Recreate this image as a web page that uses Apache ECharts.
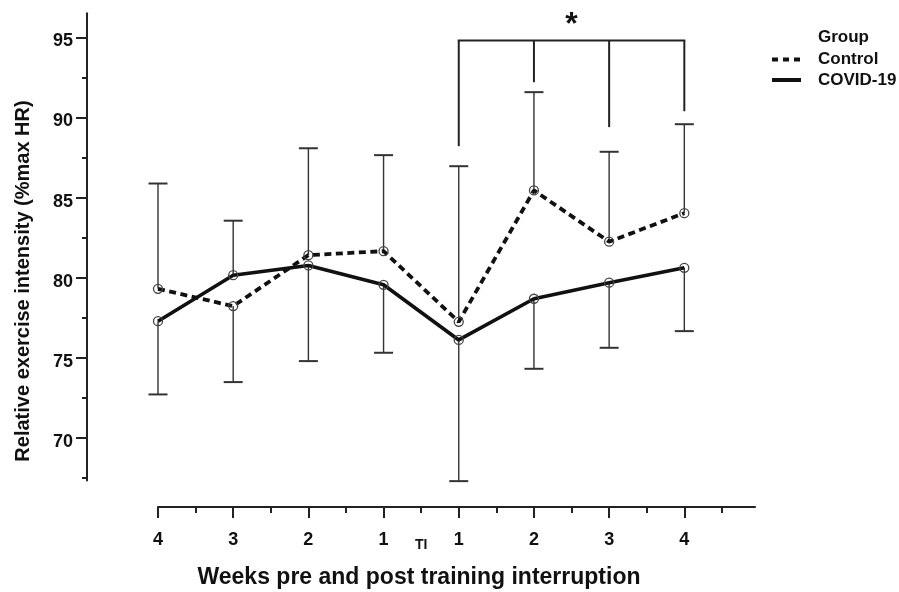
<!DOCTYPE html>
<html><head><meta charset="utf-8">
<script src="https://cdn.jsdelivr.net/npm/echarts@6/dist/echarts.min.js"></script>
<style>html,body{margin:0;padding:0;background:#fff}#c{width:899px;height:592px}</style>
</head><body><div id="c"></div>
<script>
// ---- data ----
const weekLabels = ['4', '3', '2', '1', '1', '2', '3', '4'];
const controlMean = [79.31, 78.23, 81.41, 81.66, 77.25, 85.45, 82.25, 84.03];
const covidMean   = [77.29, 80.16, 80.77, 79.56, 76.12, 78.69, 79.69, 80.62];
const errUpper    = [85.88, 83.56, 88.08, 87.65, 86.96, 91.58, 87.86, 89.58];
const errLower    = [72.72, 73.49, 74.80, 75.32, 67.31, 74.32, 75.63, 76.67];
const bracketTop  = 94.8;
const bracketIdx  = [4, 5, 6, 7];
const bracketEnd  = [88.21, 92.20, 89.40, 90.39];
const yMajorTicks = [70, 75, 80, 85, 90, 95];
const yMinorTicks = [67.5, 72.5, 77.5, 82.5, 87.5, 92.5];
const xMajorTicks = [0, 1, 2, 3, 4, 5, 6, 7];
const xMinorTicks = [0.5, 1.5, 2.5, 3.5, 4.5, 5.5, 6.5, 7.5];
const tiPos = 3.5;
const tiLabel = 'TI';
const groupNames = ['Control', 'COVID-19'];

// ---- chart ----
const FONT = '"Liberation Sans", Arial, sans-serif';
const chart = echarts.init(document.getElementById('c'), null, {renderer: 'canvas'});

const errData = weekLabels.map((_, i) => [i, errUpper[i], errLower[i],
  Math.max(controlMean[i], covidMean[i]), Math.min(controlMean[i], covidMean[i])]);

const markerStyle = {color: 'rgba(255,255,255,0)', borderColor: '#444', borderWidth: 1.3};

const xBase = {
  type: 'value', min: 0, max: 7.94, position: 'bottom', offset: 26.5,
  splitLine: {show: false}
};
const yBase = {
  type: 'value', min: 67.35, max: 96.5, position: 'left', offset: 71,
  splitLine: {show: false}
};

const option = {
  backgroundColor: '#fff',
  animation: false,
  grid: {left: 158, right: 144, top: 13.3, bottom: 111.5},
  xAxis: [
    Object.assign({}, xBase, {
      axisLine: {show: true, onZero: false, lineStyle: {color: '#222', width: 2}},
      axisTick: {show: true, customValues: xMajorTicks, length: 11, lineStyle: {color: '#222', width: 2}},
      axisLabel: {show: true, customValues: xMajorTicks, margin: 24,
        formatter: v => weekLabels[Math.round(v)],
        fontFamily: FONT, fontWeight: 'bold', fontSize: 18, color: '#111'}
    }),
    Object.assign({}, xBase, {
      axisLine: {show: false, onZero: false},
      axisTick: {show: true, customValues: xMinorTicks, length: 6, lineStyle: {color: '#222', width: 2}},
      axisLabel: {show: true, customValues: [tiPos], margin: 31,
        formatter: () => tiLabel,
        fontFamily: FONT, fontWeight: 'bold', fontSize: 14, color: '#111'}
    })
  ],
  yAxis: [
    Object.assign({}, yBase, {
      axisLine: {show: true, onZero: false, lineStyle: {color: '#222', width: 2}},
      axisTick: {show: true, customValues: yMajorTicks, length: 11, lineStyle: {color: '#222', width: 2}},
      axisLabel: {show: true, customValues: yMajorTicks, margin: 14,
        formatter: v => '{n|' + v + '}',
        rich: {n: {fontFamily: FONT, fontWeight: 'bold', fontSize: 18, color: '#111', padding: [8, 0, 0, 0]}},
        fontFamily: FONT, fontWeight: 'bold', fontSize: 18, color: '#111'}
    }),
    Object.assign({}, yBase, {
      axisLine: {show: false, onZero: false},
      axisTick: {show: true, customValues: yMinorTicks, length: 5, lineStyle: {color: '#222', width: 2}},
      axisLabel: {show: false}
    })
  ],
  series: [
    {
      type: 'custom', name: 'err', xAxisIndex: 0, yAxisIndex: 0, clip: false, z: 1,
      data: errData,
      renderItem: function (params, api) {
        const x = api.value(0);
        const pTop = api.coord([x, api.value(1)]);
        const pBot = api.coord([x, api.value(2)]);
        const pHi = api.coord([x, api.value(3)]);
        const pLo = api.coord([x, api.value(4)]);
        const hw = 9.5;
        const st = {stroke: '#333', lineWidth: 1.4};
        const cs = {stroke: '#333', lineWidth: 2};
        return {type: 'group', children: [
          {type: 'line', shape: {x1: pTop[0], y1: pTop[1], x2: pHi[0], y2: pHi[1]}, style: st},
          {type: 'line', shape: {x1: pTop[0] - hw, y1: pTop[1], x2: pTop[0] + hw, y2: pTop[1]}, style: cs},
          {type: 'line', shape: {x1: pLo[0], y1: pLo[1], x2: pBot[0], y2: pBot[1]}, style: st},
          {type: 'line', shape: {x1: pBot[0] - hw, y1: pBot[1], x2: pBot[0] + hw, y2: pBot[1]}, style: cs}
        ]};
      }
    },
    {
      type: 'custom', name: 'bracket', xAxisIndex: 0, yAxisIndex: 0, clip: false, z: 1,
      data: [[0]],
      renderItem: function (params, api) {
        const children = [];
        const first = api.coord([bracketIdx[0], bracketTop]);
        const last = api.coord([bracketIdx[bracketIdx.length - 1], bracketTop]);
        const st = {stroke: '#222', lineWidth: 2};
        children.push({type: 'line', shape: {x1: first[0] - 1, y1: first[1], x2: last[0] + 1, y2: last[1]}, style: st});
        bracketIdx.forEach((ix, k) => {
          const a = api.coord([ix, bracketTop]);
          const b = api.coord([ix, bracketEnd[k]]);
          children.push({type: 'line', shape: {x1: a[0], y1: a[1], x2: b[0], y2: b[1]}, style: st});
        });
        const mid = api.coord([(bracketIdx[0] + bracketIdx[bracketIdx.length - 1]) / 2, bracketTop]);
        children.push({type: 'text', x: mid[0], y: mid[1] + 1, style: {
          text: '*', fontFamily: FONT, fontWeight: 'bold', fontSize: 32, fill: '#111',
          align: 'center', verticalAlign: 'bottom', textAlign: 'center', textVerticalAlign: 'bottom'}});
        return {type: 'group', children};
      }
    },
    {
      type: 'line', name: groupNames[0], xAxisIndex: 0, yAxisIndex: 0, z: 3,
      data: controlMean.map((v, i) => [i, v]),
      symbol: 'circle', symbolSize: 9, itemStyle: markerStyle,
      lineStyle: {color: '#111', width: 3.8, type: [7, 4.5]}
    },
    {
      type: 'line', name: groupNames[1], xAxisIndex: 0, yAxisIndex: 0, z: 3,
      data: covidMean.map((v, i) => [i, v]),
      symbol: 'circle', symbolSize: 9, itemStyle: markerStyle,
      lineStyle: {color: '#111', width: 3.6, type: 'solid'}
    }
  ],
  graphic: [
    {type: 'text', x: 23, y: 281, rotation: Math.PI / 2, style: {
      text: 'Relative exercise intensity (%max HR)', fontFamily: FONT, fontWeight: 'bold', fontSize: 20,
      fill: '#111', align: 'center', verticalAlign: 'middle', textAlign: 'center', textVerticalAlign: 'middle'}},
    {type: 'text', x: 419, y: 578, style: {
      text: 'Weeks pre and post training interruption', fontFamily: FONT, fontWeight: 'bold', fontSize: 23,
      fill: '#111', align: 'center', verticalAlign: 'middle', textAlign: 'center', textVerticalAlign: 'middle'}},
    {type: 'text', x: 818, y: 37, style: {text: 'Group', fontFamily: FONT, fontWeight: 'bold', fontSize: 17,
      fill: '#111', align: 'left', verticalAlign: 'middle', textAlign: 'left', textVerticalAlign: 'middle'}},
    {type: 'text', x: 818, y: 59, style: {text: groupNames[0], fontFamily: FONT, fontWeight: 'bold', fontSize: 17,
      fill: '#111', align: 'left', verticalAlign: 'middle', textAlign: 'left', textVerticalAlign: 'middle'}},
    {type: 'text', x: 818, y: 80, style: {text: groupNames[1], fontFamily: FONT, fontWeight: 'bold', fontSize: 17,
      fill: '#111', align: 'left', verticalAlign: 'middle', textAlign: 'left', textVerticalAlign: 'middle'}},
    {type: 'line', shape: {x1: 772, y1: 59.5, x2: 801, y2: 59.5}, style: {stroke: '#111', lineWidth: 4, lineDash: [6, 5]}},
    {type: 'line', shape: {x1: 772, y1: 80, x2: 801, y2: 80}, style: {stroke: '#111', lineWidth: 4}}
  ]
};
chart.setOption(option);
</script>
</body></html>
